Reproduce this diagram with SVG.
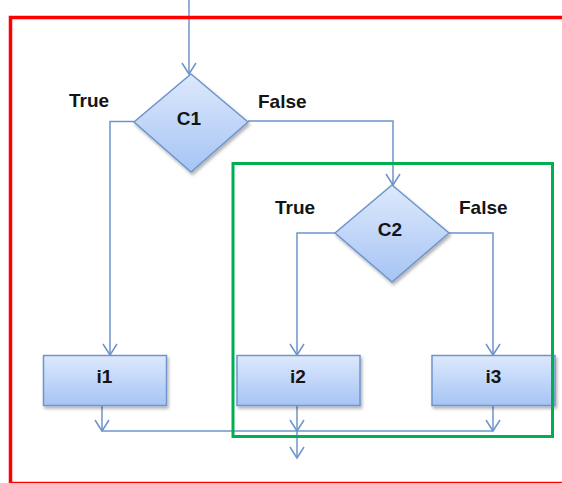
<svg xmlns="http://www.w3.org/2000/svg" width="562" height="483" viewBox="0 0 562 483">
<style>
.shape{fill:url(#g);stroke:#6f94cb;stroke-width:1.5;filter:url(#sh)}
.lbl{font-family:"Liberation Sans",Arial,sans-serif;font-weight:bold;font-size:19px;fill:#141414}
.node{font-family:"Liberation Sans",Arial,sans-serif;font-weight:bold;font-size:19px;fill:#141414;text-anchor:middle}
.conn{fill:none;stroke:#6d94cb;stroke-width:1.5}
</style>
<defs>
<linearGradient id="g" x1="0" y1="0" x2="0" y2="1">
<stop offset="0" stop-color="#dde9fc"/>
<stop offset="1" stop-color="#a6c4f4"/>
</linearGradient>
<filter id="sh" x="-20%" y="-20%" width="140%" height="150%">
<feDropShadow dx="1.5" dy="2.5" stdDeviation="1.8" flood-color="#000" flood-opacity="0.3"/>
</filter>
<marker id="ah" markerUnits="userSpaceOnUse" markerWidth="16" markerHeight="18" refX="12" refY="8" orient="auto" viewBox="0 0 16 18">
<path d="M1,1 L12,8 L1,15" fill="none" stroke="#6d94cb" stroke-width="1.5"/>
</marker>
</defs>
<rect width="562" height="483" fill="#fff"/>
<g id="connectors">
<path class="conn" d="M189,0 V74" marker-end="url(#ah)"/>
<path class="conn" d="M134,121.5 H110 V355" marker-end="url(#ah)"/>
<path class="conn" d="M248,121 H393 V185" marker-end="url(#ah)"/>
<path class="conn" d="M335,233 H297 V355" marker-end="url(#ah)"/>
<path class="conn" d="M449,233 H493 V355" marker-end="url(#ah)"/>
<path class="conn" d="M102,405 V431" marker-end="url(#ah)"/>
<path class="conn" d="M297,405 V431" marker-end="url(#ah)"/>
<path class="conn" d="M493,405 V431" marker-end="url(#ah)"/>
<path class="conn" d="M102,431 H493"/>
<path class="conn" d="M297,431 V458" marker-end="url(#ah)"/>
</g>
<g id="C1">
<polygon class="shape" points="191,74 248,122 191,172 134,122"/>
<text class="node" x="189" y="125">C1</text>
</g>
<g id="C2">
<polygon class="shape" points="392,185 449,233 392,282 335,233"/>
<text class="node" x="390" y="236">C2</text>
</g>
<g id="i1">
<rect class="shape" x="43.5" y="355.5" width="123" height="50"/>
<text class="node" x="104.5" y="383">i1</text>
</g>
<g id="i2">
<rect class="shape" x="237" y="355.5" width="123" height="50"/>
<text class="node" x="298" y="383">i2</text>
</g>
<g id="i3">
<rect class="shape" x="432" y="355.5" width="123" height="50"/>
<text class="node" x="493.5" y="383">i3</text>
</g>
<g id="labels">
<text class="lbl" x="69" y="107">True</text>
<text class="lbl" x="258" y="108">False</text>
<text class="lbl" x="275" y="214">True</text>
<text class="lbl" x="459" y="214">False</text>
</g>
<g id="frames">
<rect x="233" y="163.5" width="319.5" height="273" fill="none" stroke="#00b050" stroke-width="3"/>
<rect x="10.5" y="17.5" width="560" height="466" fill="none" stroke="#ff0000" stroke-width="3.5"/>
</g>
</svg>
